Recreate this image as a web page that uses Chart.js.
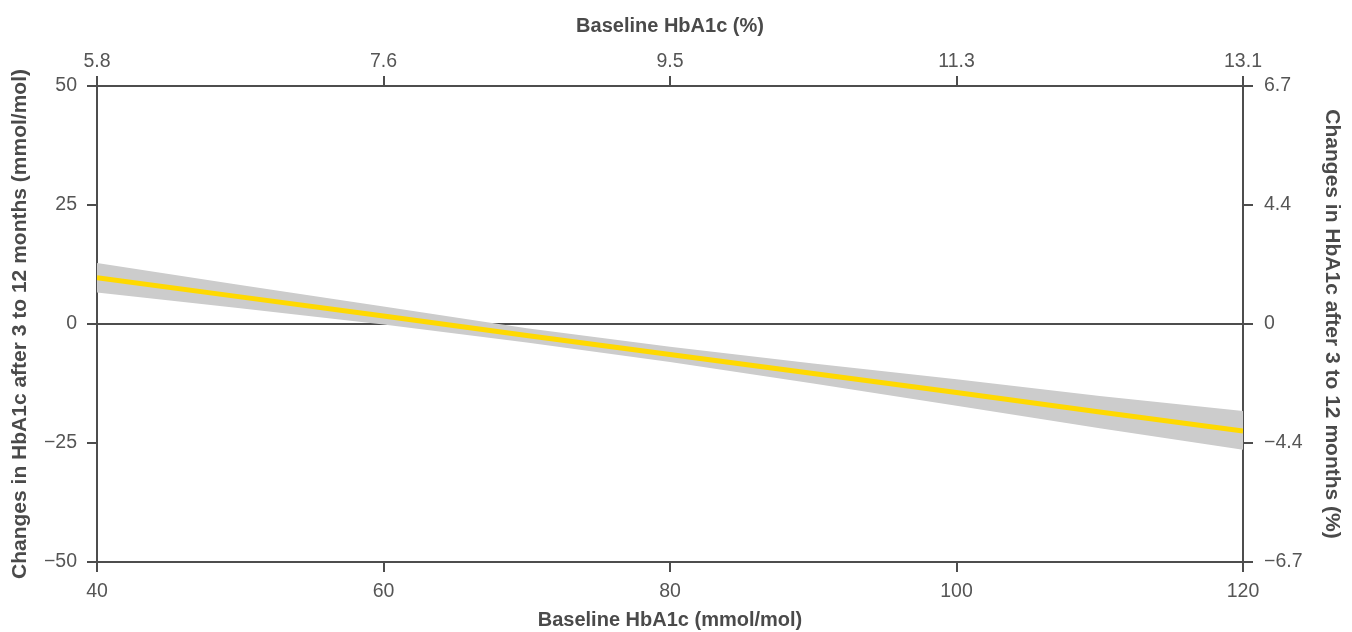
<!DOCTYPE html>
<html>
<head>
<meta charset="utf-8">
<script src="https://cdn.jsdelivr.net/npm/chart.js@4"></script>
<style>
  html, body { margin: 0; padding: 0; background: #fff; }
  #wrap { width: 1352px; height: 632px; position: relative; }
</style>
</head>
<body>
<div id="wrap"><canvas id="chart"></canvas></div>
<script>
// =====================================================
// DATA
// =====================================================

// baseline HbA1c (mmol/mol) where the fit is sampled
const baseline = [40, 50, 60, 70, 80, 90, 100, 110, 120];

// fitted change in HbA1c (mmol/mol)
const fitted = [9.7, 5.7, 1.7, -2.4, -6.4, -10.4, -14.4, -18.5, -22.5];

// confidence band edges
const bandUpper = [12.8, 8.2, 3.7, -0.9, -4.8, -8.3, -11.6, -15.1, -18.3];
const bandLower = [6.6, 3.3, -0.1, -3.9, -8.0, -12.5, -17.2, -21.9, -26.4];

// tick labels for each axis
const bottomLabels = ['40', '60', '80', '100', '120'];
const topLabels    = ['5.8', '7.6', '9.5', '11.3', '13.1'];
const leftLabels   = ['\u221250', '\u221225', '0', '25', '50'];
const rightLabels  = ['\u22126.7', '\u22124.4', '0', '4.4', '6.7'];

// =====================================================
// STYLE
// =====================================================
const axisColor  = '#4d4d4d';
const textColor  = '#555555';
const titleColor = '#4a4a4a';
const fontFamily = '"Liberation Sans", Arial, Helvetica, sans-serif';
const tickFont   = { family: fontFamily, size: 19.5 };
const titleFont  = { family: fontFamily, size: 21, weight: 'bold' };
const xTitleFont = { family: fontFamily, size: 20, weight: 'bold' };

const pts = ys => baseline.map((x, i) => ({ x: x, y: ys[i] }));

// shared axis look
function axisBase(extra) {
  return Object.assign({
    type: 'linear',
    border: { display: true, color: axisColor, width: 2 },
    grid: {
      drawOnChartArea: false,
      color: axisColor,
      tickColor: axisColor,
      tickLength: 10,
      lineWidth: 2
    }
  }, extra);
}

new Chart(document.getElementById('chart'), {
  type: 'line',
  data: {
    datasets: [
      {
        // regression line — first so it is drawn on top
        data: pts(fitted),
        borderColor: '#FFD900',
        borderWidth: 5,
        pointRadius: 0,
        fill: false,
        tension: 0
      },
      {
        data: pts(bandUpper),
        borderWidth: 0,
        pointRadius: 0,
        backgroundColor: '#CCCCCC',
        fill: '+1'
      },
      {
        data: pts(bandLower),
        borderWidth: 0,
        pointRadius: 0,
        fill: false
      }
    ]
  },
  options: {
    responsive: true,
    maintainAspectRatio: false,
    animation: false,
    layout: { padding: 0 },
    plugins: {
      legend: { display: false },
      tooltip: { enabled: false }
    },
    scales: {
      x: axisBase({
        position: 'bottom',
        min: 40, max: 120,
        ticks: {
          stepSize: 20, autoSkip: false, maxRotation: 0,
          padding: 8, color: textColor, font: tickFont,
          callback: (v, i) => bottomLabels[i]
        },
        title: {
          display: true, text: 'Baseline HbA1c (mmol/mol)',
          color: titleColor, font: xTitleFont,
          padding: { top: 0, bottom: 0 }
        },
        afterFit: s => { s.height = 70; }
      }),
      xTop: axisBase({
        position: 'top',
        min: 40, max: 120,
        ticks: {
          stepSize: 20, autoSkip: false, maxRotation: 0,
          padding: 3, color: textColor, font: tickFont,
          callback: (v, i) => topLabels[i]
        },
        title: {
          display: true, text: 'Baseline HbA1c (%)',
          color: titleColor, font: xTitleFont,
          padding: { top: 14, bottom: 0 }
        },
        afterFit: s => { s.height = 86; }
      }),
      y: axisBase({
        position: 'left',
        min: -50, max: 50,
        grid: {
          drawOnChartArea: true,
          // only the zero line shows inside the plot
          color: ctx => (ctx.tick && ctx.tick.value === 0) ? axisColor : 'rgba(0,0,0,0)',
          tickColor: axisColor,
          tickLength: 10,
          lineWidth: 2
        },
        ticks: {
          stepSize: 25, autoSkip: false,
          padding: 10, color: textColor, font: tickFont,
          callback: (v, i) => leftLabels[i]
        },
        title: {
          display: true, text: 'Changes in HbA1c after 3 to 12 months (mmol/mol)',
          color: titleColor, font: titleFont,
          padding: { top: 8, bottom: 0 }
        },
        afterFit: s => { s.width = 97; }
      }),
      yRight: axisBase({
        position: 'right',
        min: -50, max: 50,
        ticks: {
          stepSize: 25, autoSkip: false,
          padding: 11, color: textColor, font: tickFont,
          callback: (v, i) => rightLabels[i]
        },
        title: {
          display: true, text: 'Changes in HbA1c after 3 to 12 months (%)',
          color: titleColor, font: titleFont,
          padding: { top: 8, bottom: 0 }
        },
        afterFit: s => { s.width = 109; }
      })
    }
  }
});
</script>
</body>
</html>
